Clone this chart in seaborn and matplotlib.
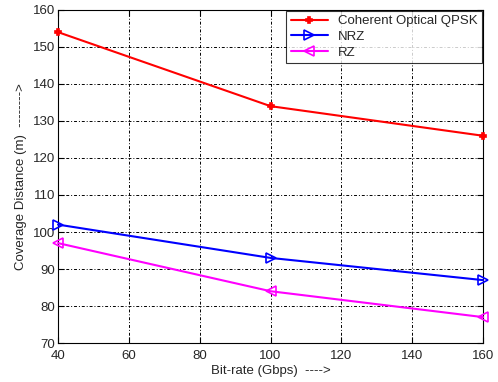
import seaborn as sns
import matplotlib.pyplot as plt
import pandas as pd

bit_rate = [40, 100, 160]
qpsk = [154, 134, 126]
nrz = [102, 93, 87]
rz = [97, 84, 77]

sns.set_style("white")
plt.rcParams['font.family'] = ['Liberation Sans', 'DejaVu Sans']

df = pd.DataFrame({
    "bitrate": bit_rate * 3,
    "dist": qpsk + nrz + rz,
    "scheme": ["Coherent Optical QPSK"] * 3 + ["NRZ"] * 3 + ["RZ"] * 3,
})

fig = plt.figure(figsize=(4.98, 3.82), dpi=100)
ax = fig.add_axes([0.1165, 0.102, 0.8535, 0.872])

palette = {"Coherent Optical QPSK": "red", "NRZ": "blue", "RZ": "magenta"}
markers = {"Coherent Optical QPSK": "P", "NRZ": ">", "RZ": "<"}

for name, grp in df.groupby("scheme", sort=False):
    c = palette[name]
    qp = name == "Coherent Optical QPSK"
    sns.lineplot(x="bitrate", y="dist", data=grp, color=c, linewidth=1.5,
                 marker=markers[name], markersize=5 if qp else 7,
                 markerfacecolor=c if qp else "none",
                 markeredgecolor=c, markeredgewidth=1.2, label=name,
                 clip_on=False, zorder=3, ax=ax)

ax.set_xlim(40, 160)
ax.set_ylim(70, 160)
ax.set_xticks(range(40, 161, 20))
ax.set_yticks(range(70, 161, 10))
ax.grid(True, color="black", linestyle=(0, (3, 2, 1, 2)), linewidth=0.7)
ax.tick_params(direction="in", length=4, labelsize=9.5, color="black",
               bottom=True, left=True, top=True, right=True)
ax.tick_params(axis="x", pad=5)
ax.tick_params(axis="y", pad=2)
for s in ax.spines.values():
    s.set_color("black")
    s.set_linewidth(0.8)

ax.set_xlabel("Bit-rate (Gbps)  ---->", fontsize=9.5, labelpad=2)
ax.set_ylabel("Coverage Distance (m)  -------->", fontsize=9.5, labelpad=4)

leg = ax.legend(loc="upper right", fontsize=9.5, frameon=True, fancybox=False,
                borderaxespad=0.05, handlelength=2.8, labelspacing=0.25,
                borderpad=0.35)
leg.get_frame().set_edgecolor("black")
leg.get_frame().set_linewidth(0.8)

plt.savefig("out.png", dpi=100)
plt.close()
